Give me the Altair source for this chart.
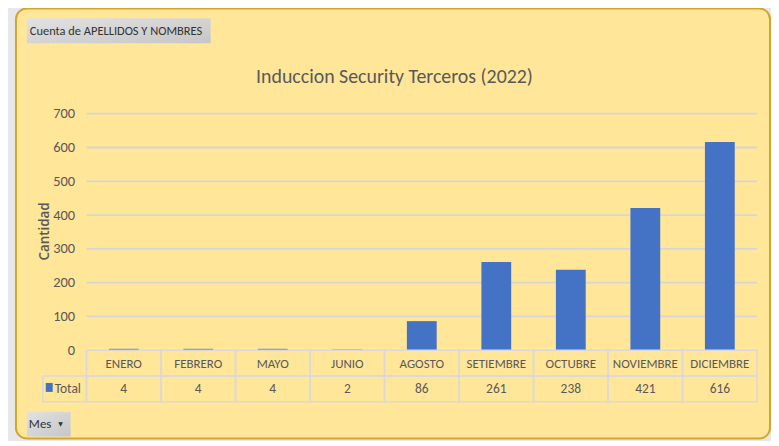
import altair as alt
import pandas as pd

meses = ["ENERO", "FEBRERO", "MAYO", "JUNIO", "AGOSTO", "SETIEMBRE", "OCTUBRE", "NOVIEMBRE", "DICIEMBRE"]
totales = [4, 4, 4, 2, 86, 261, 238, 421, 616]
y_ticks = [0, 100, 200, 300, 400, 500, 600, 700]
titulo = "Induccion Security Terceros (2022)"
eje_y = "Cantidad"
boton_campo = "Cuenta de APELLIDOS Y NOMBRES"
boton_eje = "Mes"
serie = "Total"

df = pd.DataFrame({"mes": meses, "total": totales})
ticks_df = pd.DataFrame({"v": y_ticks[1:]})
one = pd.DataFrame({"k": [0]})

FONT = "Carlito, 'Liberation Sans Narrow', 'Arial Narrow', 'Roboto Condensed', 'Liberation Sans', sans-serif"
GREY = "#595959"
BLUE = "#4472C4"
GRID = "#D9D9D9"

xs = alt.Scale(type="band", domain=meses, paddingInner=0, paddingOuter=0)
ys = alt.Scale(domain=[0, 700], nice=False)
y_axis = alt.Axis(values=y_ticks, title=None, domain=False, ticks=False, labelPadding=12,
                  labelColor=GREY, labelFont=FONT, labelFontSize=14.5,
                  labelOverlap=False, labelFlush=False, labelBound=False,
                  grid=False, zindex=1)

def xenc(center=False):
    if center:
        return alt.X("mes:N", sort=meses, axis=None, scale=xs, bandPosition=0.5)
    return alt.X("mes:N", sort=meses, axis=None, scale=xs)

btn_grad = alt.LinearGradient(
    gradient="linear",
    stops=[alt.GradientStop(color="#e2e2e2", offset=0), alt.GradientStop(color="#c6c6c6", offset=1)],
    x1=0, x2=1, y1=0, y2=1,
)

panel = alt.Chart(one).mark_rect(
    cornerRadius=11, fill="#FFE699", stroke="#D1A52E", strokeWidth=2
).encode(x=alt.value(-71), x2=alt.value(688), y=alt.value(-106), y2=alt.value(327))

btn1 = alt.Chart(one).mark_rect(fill=btn_grad).encode(
    x=alt.value(-60), x2=alt.value(125), y=alt.value(-96), y2=alt.value(-71))
btn1_t = alt.Chart(one).mark_text(
    text=boton_campo, align="left", baseline="middle", font=FONT, fontSize=12.5, color="#333333"
).encode(x=alt.value(-57), y=alt.value(-83))

btn2 = alt.Chart(one).mark_rect(fill=btn_grad).encode(
    x=alt.value(-60), x2=alt.value(-16), y=alt.value(300), y2=alt.value(325))
btn2_t = alt.Chart(one).mark_text(
    text=boton_eje, align="left", baseline="middle", font=FONT, fontSize=13, color="#333333"
).encode(x=alt.value(-58), y=alt.value(312.5))
btn2_a = alt.Chart(one).mark_text(
    text="▼", align="center", baseline="middle", font="DejaVu Sans", fontSize=6, color="#333333"
).encode(x=alt.value(-26), y=alt.value(312))

title_t = alt.Chart(one).mark_text(
    text=titulo, align="center", baseline="middle", font=FONT, fontSize=20, color=GREY
).encode(x=alt.value(310), y=alt.value(-37))

ytitle = alt.Chart(one).mark_text(
    text=eje_y, align="center", baseline="middle", angle=270, font="Open Sans", fontSize=13.5,
    fontWeight=600, color=GREY
).encode(x=alt.value(-42), y=alt.value(118.5))

grid = alt.Chart(ticks_df).mark_rule(color="#D6D6D6", strokeWidth=1.8).encode(
    y=alt.Y("v:Q", scale=ys, axis=y_axis), x=alt.value(0), x2=alt.value(675))

bars = alt.Chart(df).mark_bar(width=alt.RelativeBandSize(band=0.4), color=BLUE).encode(
    x=xenc(),
    y=alt.Y("total:Q", scale=ys, axis=y_axis),
)

hdr_cells = alt.Chart(df).mark_rect(fill="transparent", stroke=GRID, strokeWidth=1.5).encode(
    x=xenc(), y=alt.value(238), y2=alt.value(264))
val_cells = alt.Chart(df).mark_rect(fill="transparent", stroke=GRID, strokeWidth=1.5).encode(
    x=xenc(), y=alt.value(264), y2=alt.value(290))
hdr_text = alt.Chart(df).mark_text(baseline="middle", font=FONT, fontSize=13, color=GREY).encode(
    x=xenc(True), y=alt.value(251.5), text="mes:N")
val_text = alt.Chart(df).mark_text(baseline="middle", font=FONT, fontSize=13.5, color=GREY).encode(
    x=xenc(True), y=alt.value(277.5), text="total:Q")

lbl_cell = alt.Chart(one).mark_rect(fill="transparent", stroke=GRID, strokeWidth=1.5).encode(
    x=alt.value(-44), x2=alt.value(0), y=alt.value(264), y2=alt.value(290))
lbl_sq = alt.Chart(one).mark_rect(fill=BLUE).encode(
    x=alt.value(-41), x2=alt.value(-34), y=alt.value(271), y2=alt.value(280))
lbl_t = alt.Chart(one).mark_text(
    text=serie, align="left", baseline="middle", font=FONT, fontSize=13.5, color=GREY
).encode(x=alt.value(-32), y=alt.value(277.5))

chart = alt.layer(
    panel, btn1, btn1_t, btn2, btn2_t, btn2_a, title_t, ytitle, grid,
    bars, hdr_cells, val_cells, hdr_text, val_text, lbl_cell, lbl_sq, lbl_t
).properties(
    width=675, height=238,
    padding={"left": 79, "top": 105, "right": 14, "bottom": 90},
    autosize=alt.AutoSizeParams(type="none"),
    background="#E6E8EB",
).configure_view(stroke=None)

chart.save("out.html", embed_options={"renderer": "svg", "actions": False})
